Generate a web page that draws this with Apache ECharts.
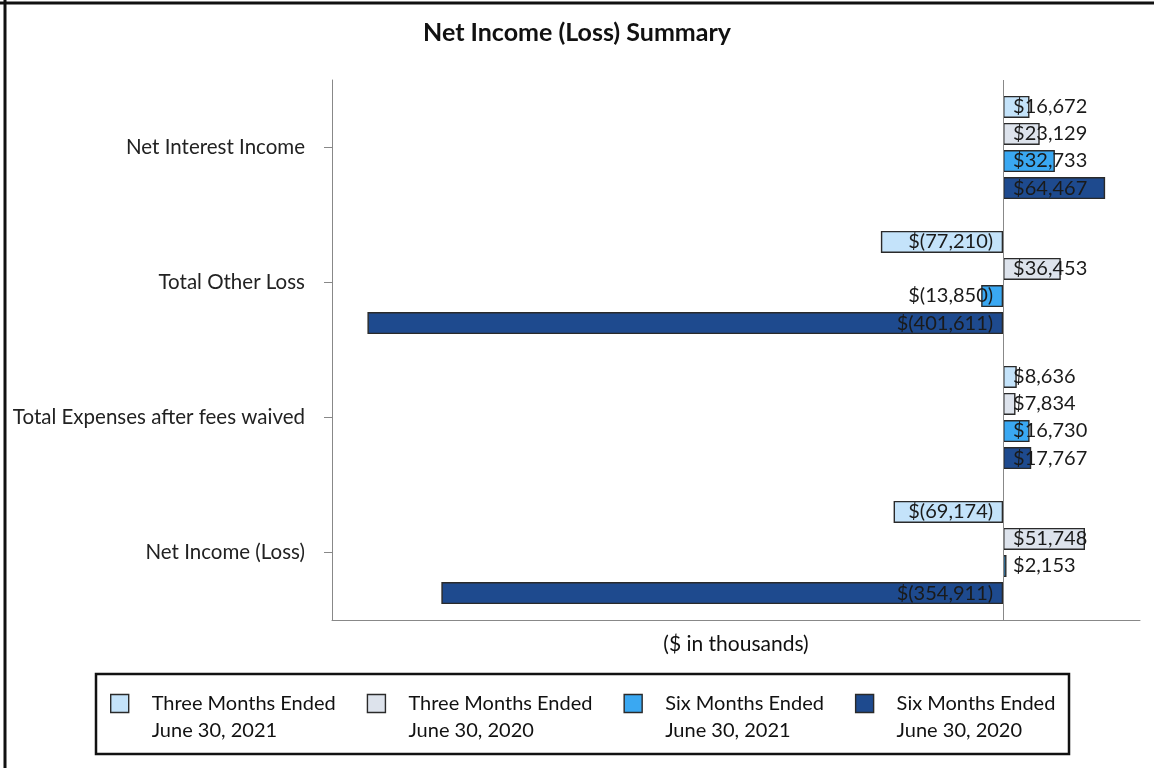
<!DOCTYPE html>
<html>
<head>
<meta charset="utf-8">
<script src="https://cdn.jsdelivr.net/npm/echarts@6/dist/echarts.min.js"></script>
<style>
  html, body { margin: 0; padding: 0; background: #fff; }
  #chart { width: 1154px; height: 768px; }
</style>
</head>
<body>
<div id="chart"></div>
<script>
// categories, top to bottom
const categories = ['Net Interest Income', 'Total Other Loss', 'Total Expenses after fees waived', 'Net Income (Loss)'];

// series names (legend shows them on two lines)
const seriesNames = [
    'Three Months Ended\nJune 30, 2021',
    'Three Months Ended\nJune 30, 2020',
    'Six Months Ended\nJune 30, 2021',
    'Six Months Ended\nJune 30, 2020'
];

// values in $ thousands
const threeMonths2021 = [16672, -77210, 8636, -69174];
const threeMonths2020 = [23129, 36453, 7834, 51748];
const sixMonths2021 = [32733, -13850, 16730, 2153];
const sixMonths2020 = [64467, -401611, 17767, -354911];

const colors = ['#c4e3fa', '#dde3ec', '#3aa8f2', '#1e4a8e'];
const FONT = 'Lato';

// $16,672 / $(77,210)
const fmtMoney = v => {
    const s = Math.abs(v).toLocaleString('en-US');
    return v < 0 ? '$(' + s + ')' : '$' + s;
};

const makeSeries = (name, values, i) => ({
    name: name,
    type: 'bar',
    barWidth: 22,
    barGap: '23%',
    itemStyle: { color: colors[i], borderColor: '#2a2a2a', borderWidth: 1.4 },
    data: values.map(v => ({
        value: v,
        label: {
            show: true,
            position: v < 0 ? 'insideRight' : 'insideLeft',
            distance: 10,
            formatter: p => fmtMoney(p.value),
            color: '#1a1a1a',
            fontFamily: FONT,
            fontSize: 20
        }
    })),
    // vertical line at zero
    markLine: i === 0 ? {
        silent: true,
        symbol: 'none',
        label: { show: false },
        lineStyle: { color: '#888', width: 1, type: 'solid' },
        data: [{ xAxis: 0 }]
    } : undefined
});

const allSeries = [threeMonths2021, threeMonths2020, sixMonths2021, sixMonths2020]
    .map((vals, i) => makeSeries(seriesNames[i], vals, i));

const chart = echarts.init(document.getElementById('chart'));

chart.setOption({
    animation: false,
    backgroundColor: '#fff',
    textStyle: { fontFamily: FONT },
    title: {
        text: 'Net Income (Loss) Summary',
        left: 'center',
        top: 15,
        textStyle: { fontFamily: FONT, fontSize: 25, fontWeight: 'bold', color: '#111' }
    },
    grid: { left: 332, right: 14, top: 80, bottom: 148, containLabel: false },
    xAxis: {
        type: 'value',
        min: -424000,
        max: 86500,
        axisLabel: { show: false },
        axisTick: { show: false },
        splitLine: { show: false },
        axisLine: { show: true, onZero: false, lineStyle: { color: '#888' } },
        name: '($ in thousands)',
        nameLocation: 'middle',
        nameGap: 14,
        nameTextStyle: { fontFamily: FONT, fontSize: 21, color: '#111' }
    },
    yAxis: {
        type: 'category',
        data: categories,
        inverse: true,
        axisLine: { show: true, onZero: false, lineStyle: { color: '#888' } },
        axisTick: { show: true, alignWithLabel: true, length: 8, lineStyle: { color: '#888' } },
        axisLabel: { margin: 27, fontFamily: FONT, fontSize: 20.5, color: '#222' }
    },
    legend: {
        data: seriesNames,
        icon: 'rect',
        left: 105,
        top: 658,
        itemWidth: 18,
        itemHeight: 18,
        itemGap: 31,
        itemStyle: { borderColor: '#2a2a2a', borderWidth: 1.4 },
        // empty first line so the icon lines up with the first text line
        formatter: name => ' \n' + name,
        textStyle: { fontFamily: FONT, fontSize: 20, color: '#111', lineHeight: 27, padding: [0, 0, 0, 18] }
    },
    graphic: [
        { type: 'rect', shape: { x: 96, y: 674, width: 973, height: 80 }, style: { fill: 'none', stroke: '#111', lineWidth: 2.5 } },
        { type: 'line', shape: { x1: 5, y1: 0, x2: 5, y2: 768 }, style: { stroke: '#111', lineWidth: 3 } },
        { type: 'line', shape: { x1: 0, y1: 3, x2: 1154, y2: 3 }, style: { stroke: '#111', lineWidth: 3 } }
    ],
    series: allSeries
});
</script>
</body>
</html>
